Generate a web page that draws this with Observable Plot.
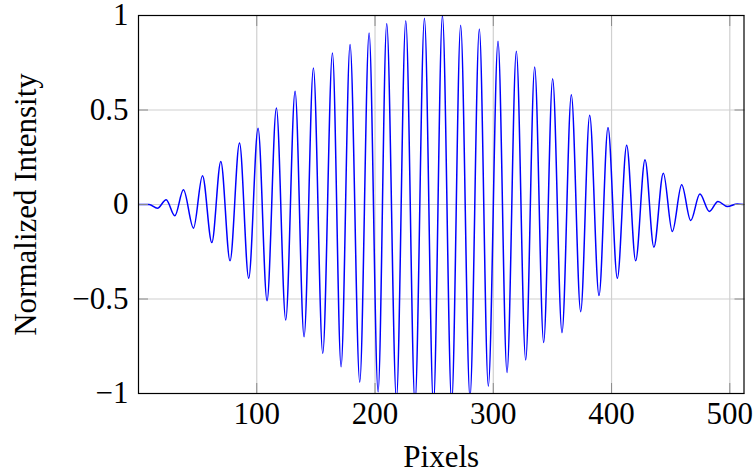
<!DOCTYPE html>
<html>
<head>
<meta charset="utf-8">
<script src="https://cdn.jsdelivr.net/npm/d3@7"></script>
<script src="https://cdn.jsdelivr.net/npm/@observablehq/plot@0.6"></script>
<style>
  html, body { margin: 0; padding: 0; background: white; }
</style>
</head>
<body>
<div id="chart"></div>
<script>
// Extrema (peaks / troughs)
const pixels = [0, 9, 16, 23.4, 30.7, 38, 46.5, 54.1, 62, 69.6, 77.4, 85.4, 93.2, 101.1, 108.7, 116.6,
  124.5, 132.4, 140, 147.9, 155.8, 164, 171.3, 178.9, 187.1, 195, 202.6, 209.9, 218.1, 226, 233.8,
  241.8, 249.4, 257, 264.8, 272.4, 280.3, 288.2, 295.8, 304, 311.6, 319.5, 327.4, 335, 342.6, 350.2,
  358.1, 366, 373.9, 381.5, 389.4, 397, 404.9, 412.8, 420.4, 428.3, 435.8, 443.8, 451.4, 459.3,
  466.9, 474.7, 482.7, 490, 497.9, 506.3, 512];
const intensity = [0, 0, -0.02, 0.025, -0.06, 0.078, -0.125, 0.152, -0.201, 0.228, -0.298, 0.325, -0.39, 0.404, -0.509, 0.51,
  -0.611, 0.599, -0.70, 0.722, -0.788, 0.802, -0.858, 0.846, -0.94, 0.908, -0.991, 0.958, -1.03, 0.972, -1.05,
  0.985, -1.06, 1.0, -1.05, 0.948, -1.02, 0.928, -0.961, 0.864, -0.889, 0.811, -0.823, 0.728, -0.73, 0.666,
  -0.678, 0.581, -0.567, 0.472, -0.482, 0.408, -0.39, 0.313, -0.298, 0.237, -0.226, 0.166, -0.143, 0.104,
  -0.085, 0.055, -0.037, 0.016, -0.011, 0.003, 0];

const xTicks = [100, 200, 300, 400, 500];
const yTicks = [-1, -0.5, 0, 0.5, 1];
const xLabel = "Pixels";
const yLabel = "Normalized Intensity";

const data = pixels.map((p, i) => ({pixel: p, value: intensity[i]}));
const fmtY = d => (d < 0 ? "\u2212" : "") + String(Math.abs(d));

const gridColor = "#d0d0d0";
const tickColor = "#8a8a8a";

const chart = Plot.plot({
  width: 753,
  height: 475,
  marginLeft: 138,
  marginRight: 9.5,
  marginTop: 15,
  marginBottom: 82,
  style: {fontFamily: "'Liberation Serif', serif", fontSize: "31px", background: "white", color: "black"},
  x: {domain: [0, 512], label: null},
  y: {domain: [-1, 1], label: null},
  marks: [
    Plot.gridX(xTicks, {stroke: gridColor, strokeOpacity: 1, strokeWidth: 1.2}),
    Plot.gridY(yTicks, {stroke: gridColor, strokeOpacity: 1, strokeWidth: 1.2}),
    Plot.line(data, {x: "pixel", y: "value", curve: "monotone-x", stroke: "#0000ff", strokeWidth: 1.5, clip: true}),
    Plot.axisX(xTicks, {anchor: "bottom", tickSize: -10, tickPadding: 18, stroke: tickColor, fill: "black", fontSize: 31, label: null, tickFormat: d => String(d)}),
    Plot.axisX(xTicks, {anchor: "top", tickSize: -10, stroke: tickColor, label: null, tickFormat: () => null}),
    Plot.axisY(yTicks, {anchor: "left", tickSize: -10, tickPadding: 20, stroke: tickColor, fill: "black", fontSize: 31, label: null, tickFormat: fmtY}),
    Plot.axisY(yTicks, {anchor: "right", tickSize: -10, stroke: tickColor, label: null, tickFormat: () => null}),
    Plot.frame({stroke: "black", strokeWidth: 1.2}),
    Plot.text([xLabel], {frameAnchor: "bottom", dy: 64, text: d => d, fontSize: 31, textAnchor: "middle", lineAnchor: "middle"}),
    Plot.text([yLabel], {frameAnchor: "left", dx: -112, rotate: -90, text: d => d, fontSize: 31, textAnchor: "middle", lineAnchor: "middle"})
  ]
});
document.getElementById("chart").appendChild(chart);
</script>
</body>
</html>
